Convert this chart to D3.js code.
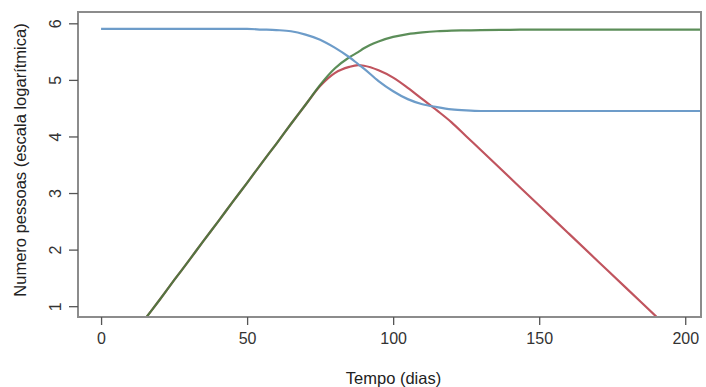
<!DOCTYPE html>
<html>
<head>
<meta charset="utf-8">
<script src="https://cdn.jsdelivr.net/npm/d3@7"></script>
<style>
	body { margin: 0; background: #fff; }
	svg { display: block; font-family: "Liberation Sans", Arial, sans-serif; }
	.tick-label { fill: #333; font-size: 16px; }
	.axis-title { fill: #222; font-size: 16.5px; }
</style>
</head>
<body>
<div id="chart"></div>
<script>

// days (x) and log10 of number of people for each curve
let days = [0, 10, 15, 20, 25, 30, 35, 40, 45, 50, 55, 60, 65, 70, 75, 80, 85, 88, 90, 95, 100,
	105, 110, 115, 120, 125, 130, 140, 150, 160, 170, 180, 190, 200, 210];

let susceptiveis = [5.90, 5.90, 5.90, 5.90, 5.90, 5.90, 5.90, 5.90, 5.90, 5.90, 5.89, 5.88, 5.86, 5.80, 5.71, 5.57, 5.40, 5.28, 5.20, 4.98, 4.80,
	4.66, 4.57, 4.52, 4.48, 4.46, 4.45, 4.45, 4.45, 4.45, 4.45, 4.45, 4.45, 4.45, 4.45];

let infectados = [-0.27, 0.42, 0.77, 1.11, 1.46, 1.80, 2.15, 2.49, 2.84, 3.18, 3.53, 3.87, 4.22, 4.56, 4.89, 5.12, 5.23, 5.26, 5.25, 5.17, 5.04,
	4.86, 4.66, 4.46, 4.25, 4.005, 3.76, 3.27, 2.78, 2.29, 1.80, 1.31, 0.82, 0.33, -0.16];

let recuperados = [-0.27, 0.42, 0.77, 1.11, 1.46, 1.80, 2.15, 2.49, 2.84, 3.18, 3.53, 3.87, 4.22, 4.56, 4.91, 5.20, 5.40, 5.49, 5.56, 5.68, 5.76,
	5.81, 5.84, 5.86, 5.87, 5.875, 5.88, 5.885, 5.89, 5.89, 5.89, 5.89, 5.89, 5.89, 5.89];

let xTicks = [0, 50, 100, 150, 200];
let yTicks = [1, 2, 3, 4, 5, 6];

let series = [
	{name: "infectados", values: infectados, color: "#c0545e"},
	{name: "recuperados", values: recuperados, color: "#3f7a3c"},
	{name: "susceptiveis", values: susceptiveis, color: "#6d9cc9"}
];

let width = 706, height = 387;
let margin = {top: 12, right: 5, bottom: 70, left: 78};

let svg = d3.select("#chart").append("svg")
	.attr("width", width)
	.attr("height", height);

let x = d3.scaleLinear()
	.domain([-7.9, 205.4])
	.range([margin.left, width - margin.right]);

let y = d3.scaleLinear()
	.domain([0.8, 6.2])
	.range([height - margin.bottom + 0.5, margin.top]);

svg.append("clipPath")
	.attr("id", "plot-clip")
	.append("rect")
	.attr("x", margin.left)
	.attr("y", margin.top)
	.attr("width", width - margin.left - margin.right)
	.attr("height", height - margin.top - margin.bottom);

let line = d3.line()
	.x((d, i) => x(days[i]))
	.y(d => y(d))
	.curve(d3.curveMonotoneX);

svg.append("g")
	.attr("clip-path", "url(#plot-clip)")
	.selectAll("path")
	.data(series)
	.enter()
	.append("path")
	.attr("fill", "none")
	.attr("stroke", d => d.color)
	.attr("stroke-width", 2.2)
	.attr("stroke-opacity", d => d.name == "recuperados" ? 0.85 : 1)
	.attr("d", d => line(d.values));

// box round the plot area
svg.append("rect")
	.attr("x", margin.left)
	.attr("y", margin.top)
	.attr("width", width - margin.left - margin.right)
	.attr("height", height - margin.top - margin.bottom)
	.attr("fill", "none")
	.attr("stroke", "#8c8c8c")
	.attr("stroke-width", 2);

// x axis
let xAxis = d3.axisBottom(x)
	.tickValues(xTicks)
	.tickSize(8)
	.tickPadding(8);

let xAxisGroup = svg.append("g")
	.attr("transform", "translate(0," + (height - margin.bottom) + ")")
	.call(xAxis);

xAxisGroup.select(".domain").remove();
xAxisGroup.selectAll(".tick line").attr("stroke", "#555").attr("stroke-width", 1.3);
xAxisGroup.selectAll(".tick text").attr("class", "tick-label").attr("font-size", null).attr("font-family", null);

// y axis, labels turned like in R
let yAxis = d3.axisLeft(y)
	.tickValues(yTicks)
	.tickFormat(d3.format("d"))
	.tickSize(9)
	.tickPadding(0);

let yAxisGroup = svg.append("g")
	.attr("transform", "translate(" + margin.left + ",0)")
	.call(yAxis);

yAxisGroup.select(".domain").remove();
yAxisGroup.selectAll(".tick line").attr("stroke", "#555").attr("stroke-width", 1.3);
yAxisGroup.selectAll(".tick text")
	.attr("class", "tick-label")
	.attr("font-size", null).attr("font-family", null)
	.attr("x", null).attr("dy", null)
	.attr("text-anchor", "middle")
	.attr("transform", "translate(-23,0) rotate(-90)")
	.attr("dy", "0.35em");

svg.append("text")
	.attr("class", "axis-title")
	.attr("x", (margin.left + width - margin.right) / 2 + 4)
	.attr("y", 384)
	.attr("text-anchor", "middle")
	.text("Tempo (dias)");

svg.append("text")
	.attr("class", "axis-title")
	.attr("text-anchor", "middle")
	.attr("transform", "translate(26," + 160 + ") rotate(-90)")
	.text("Numero pessoas (escala logarítmica)");

</script>
</body>
</html>
